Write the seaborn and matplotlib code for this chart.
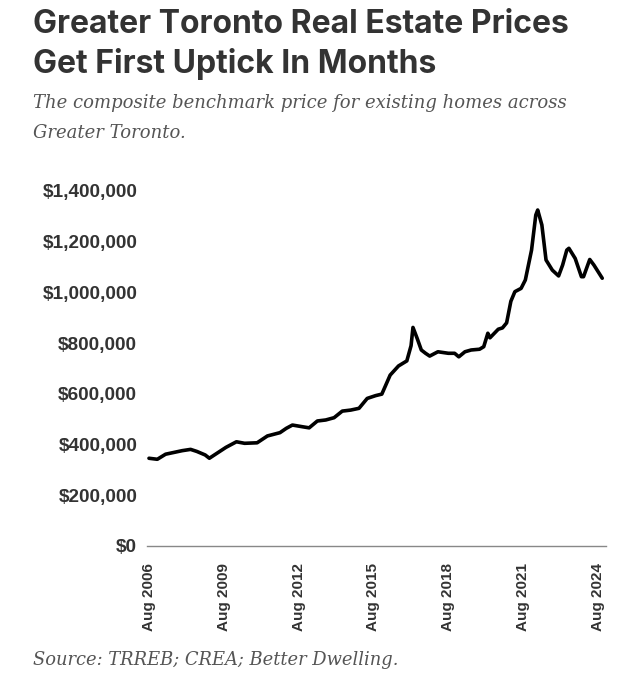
import matplotlib
matplotlib.use("Agg")
import matplotlib.pyplot as plt
import matplotlib.ticker as mticker
import seaborn as sns
import pandas as pd

# ---- data ----
dates = [
    "2006-08", "2006-12", "2007-04", "2007-08", "2007-12", "2008-04", "2008-07",
    "2008-11", "2009-01", "2009-04", "2009-09", "2010-02", "2010-06", "2010-12",
    "2011-05", "2011-11", "2012-02", "2012-05", "2012-10", "2013-01", "2013-05",
    "2013-09", "2014-01", "2014-05", "2014-09", "2015-01", "2015-05", "2015-09",
    "2015-12", "2016-04", "2016-08", "2016-12", "2017-02", "2017-03", "2017-05",
    "2017-07", "2017-09", "2017-11", "2018-03", "2018-08", "2018-11", "2019-01",
    "2019-04", "2019-07", "2019-11", "2020-01", "2020-03", "2020-04", "2020-08",
    "2020-10", "2020-12", "2021-02", "2021-04", "2021-07", "2021-09", "2021-12",
    "2022-02", "2022-03", "2022-05", "2022-07", "2022-10", "2023-01", "2023-03",
    "2023-05", "2023-06", "2023-09", "2023-12", "2024-01", "2024-04", "2024-06",
    "2024-10",
]
prices = [
    346000, 342000, 362000, 369000, 376000, 381000, 373000,
    359000, 346000, 362000, 389000, 411000, 405000, 407000,
    434000, 447000, 464000, 477000, 470000, 466000, 493000,
    497000, 506000, 532000, 536000, 543000, 582000, 593000,
    599000, 674000, 710000, 730000, 790000, 862000, 819000,
    773000, 760000, 749000, 766000, 760000, 760000, 746000,
    766000, 773000, 776000, 786000, 839000, 821000, 855000,
    860000, 880000, 965000, 1003000, 1016000, 1049000, 1167000,
    1305000, 1325000, 1266000, 1128000, 1088000, 1065000, 1108000,
    1167000, 1174000, 1134000, 1062000, 1062000, 1130000, 1108000,
    1056000,
]
tick_years = [2006, 2009, 2012, 2015, 2018, 2021, 2024]
tick_labels = [f"Aug {y}" for y in tick_years]
y_ticks = [0, 200000, 400000, 600000, 800000, 1000000, 1200000, 1400000]

title = "Greater Toronto Real Estate Prices\nGet First Uptick In Months"
subtitle = "The composite benchmark price for existing homes across\nGreater Toronto."
source = "Source: TRREB; CREA; Better Dwelling."

df = pd.DataFrame({"date": pd.to_datetime(dates), "price": prices})

sns.set_theme(style="white")
plt.rcParams["font.family"] = ["Liberation Sans", "DejaVu Sans"]

fig = plt.figure(figsize=(6.4, 6.79), dpi=100)
W, H = 640, 679
left, right, bottom, top = 147, 606, 546, 191
ax = fig.add_axes([left / W, 1 - bottom / H, (right - left) / W, (bottom - top) / H])

sns.lineplot(data=df, x="date", y="price", ax=ax, color="black", linewidth=2.6)

ax.set_ylim(0, 1400000)
ax.set_xlim(pd.Timestamp("2006-07-03"), pd.Timestamp("2024-11-25"))
ax.set_yticks(y_ticks)
ax.yaxis.set_major_formatter(mticker.FuncFormatter(lambda v, p: f"${int(v):,}"))
ax.set_xticks([pd.Timestamp(f"{y}-08-01") for y in tick_years])
ax.set_xticklabels(tick_labels, rotation=90)
ax.set_xlabel("")
ax.set_ylabel("")
ax.grid(False)
for s in ["top", "right", "left"]:
    ax.spines[s].set_visible(False)
ax.spines["bottom"].set_color("#888888")
ax.spines["bottom"].set_linewidth(1.0)
ax.tick_params(axis="both", length=0, labelcolor="#333333")
ax.tick_params(axis="y", pad=7, labelsize=13.7)
ax.tick_params(axis="x", pad=12, labelsize=11)
for lab in ax.get_xticklabels() + ax.get_yticklabels():
    lab.set_fontweight("bold")
ax.patch.set_alpha(0)

fig.text(33 / W, 1 - 9 / H, title, ha="left", va="top", fontsize=23, fontweight="bold",
         color="#333333", family=["Inter", "DejaVu Sans"], linespacing=1.33)
fig.text(33 / W, 1 - 94 / H, subtitle, ha="left", va="top", fontsize=13, style="italic",
         color="#555555", family=["DejaVu Serif"], linespacing=1.85)
fig.text(33 / W, 1 - 651 / H, source, ha="left", va="top", fontsize=12.9, style="italic",
         color="#555555", family=["DejaVu Serif"])

fig.savefig("out.png", dpi=100, facecolor="white")
